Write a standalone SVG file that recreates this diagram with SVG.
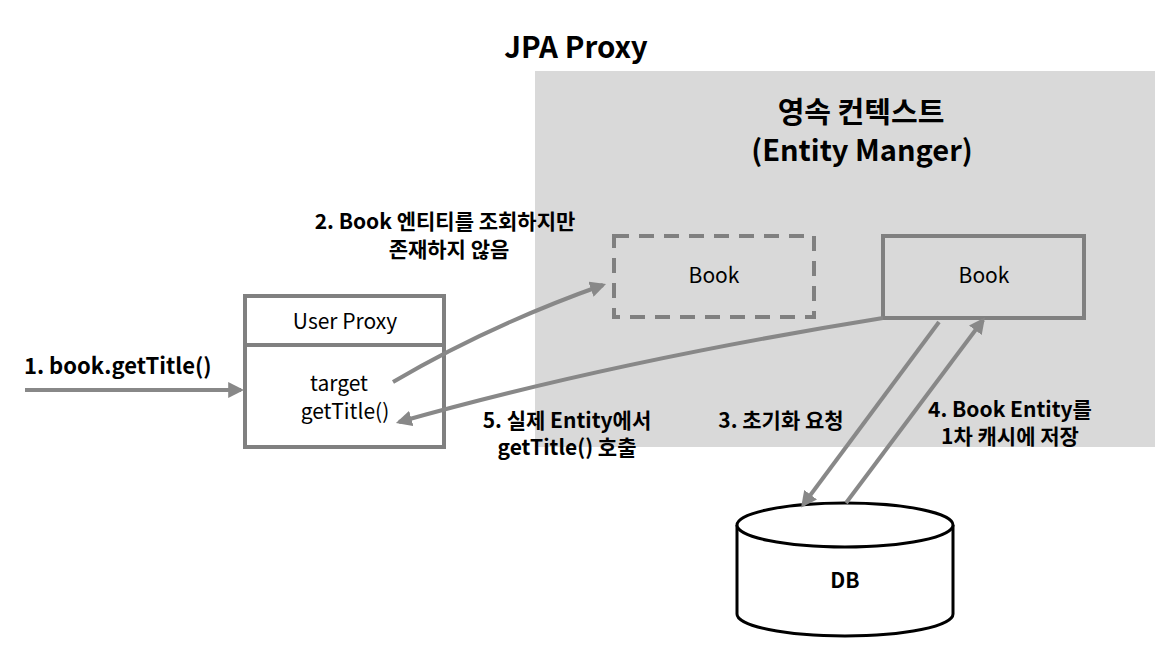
<svg xmlns="http://www.w3.org/2000/svg" width="1165" height="655" viewBox="0 0 1165 655">
<defs>
<style>
text{font-family:"Noto Sans CJK KR","Noto Sans",sans-serif;fill:#000}
.lbl{font-size:21px;font-weight:bold;text-anchor:middle}
.reg{font-size:21px;text-anchor:middle}
.box{fill:none;stroke:#808080;stroke-width:4}
.con{fill:none;stroke:#888;stroke-width:4;marker-end:url(#ah)}
</style>
<marker id="ah" viewBox="0 0 10 10" refX="8" refY="5" markerWidth="4" markerHeight="4" orient="auto" markerUnits="strokeWidth">
<path d="M0,0 L10,5 L0,10 z" fill="#888"/>
</marker>
</defs>
<rect width="1165" height="655" fill="#fff"/>
<g id="context">
<rect x="535" y="71" width="620" height="376" fill="#d9d9d9"/>
<text x="861" y="123" style="font-size:29px;font-weight:bold;text-anchor:middle">영속 컨텍스트</text>
<text x="862" y="161" style="font-size:29px;font-weight:bold;text-anchor:middle">(Entity Manger)</text>
</g>
<text id="title" x="576" y="58" style="font-size:29.5px;font-weight:bold;text-anchor:middle">JPA Proxy</text>
<g id="userproxy">
<rect class="box" x="245" y="296" width="199" height="151"/>
<line x1="245" y1="345" x2="444" y2="345" stroke="#808080" stroke-width="4"/>
<text class="reg" x="345" y="329">User Proxy</text>
<text class="reg" x="339" y="391">target</text>
<text class="reg" x="345" y="419">getTitle()</text>
</g>
<g id="bookproxy">
<rect class="box" x="614" y="236" width="200" height="81" stroke-dasharray="15,10"/>
<text class="reg" x="714" y="283">Book</text>
</g>
<g id="book">
<rect class="box" x="883" y="236" width="201" height="82"/>
<text class="reg" x="984" y="283">Book</text>
</g>
<g id="db">
<path d="M737,525 L737,614 A108,22 0 0 0 953,614 L953,525" fill="#fff" stroke="#000" stroke-width="3"/>
<ellipse cx="845" cy="525" rx="108" ry="22" fill="#fff" stroke="#000" stroke-width="3"/>
<text x="845" y="588" style="font-size:21px;font-weight:bold;text-anchor:middle">DB</text>
</g>
<g id="connectors">
<line class="con" x1="25" y1="390" x2="241" y2="390"/>
<path class="con" d="M393,382 Q490,325 603,285"/>
<path class="con" d="M883,318 Q610,362 399,422"/>
<line class="con" x1="939" y1="322" x2="803" y2="505"/>
<line class="con" x1="846" y1="503" x2="983" y2="320"/>
</g>
<g id="labels">
<text x="24" y="374" style="font-size:22px;font-weight:bold">1. book.getTitle()</text>
<text class="lbl" x="445" y="229">2. Book 엔티티를 조회하지만</text>
<text class="lbl" x="449" y="257">존재하지 않음</text>
<text class="lbl" x="567" y="428">5. 실제 Entity에서</text>
<text class="lbl" x="567" y="455">getTitle() 호출</text>
<text class="lbl" x="781" y="428">3. 초기화 요청</text>
<text class="lbl" x="1010" y="417">4. Book Entity를</text>
<text class="lbl" x="1010" y="444">1차 캐시에 저장</text>
</g>
</svg>
